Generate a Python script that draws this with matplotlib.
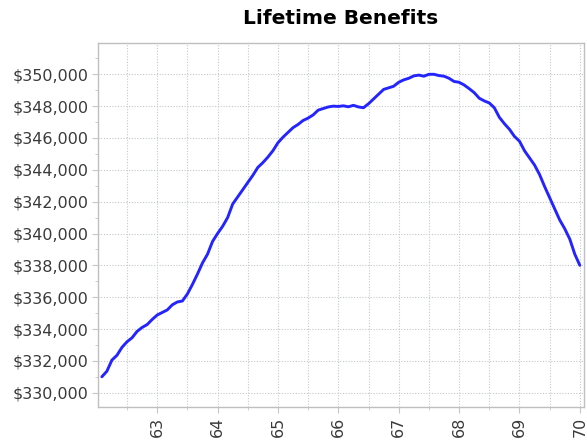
"""Lifetime benefits by claiming age."""

import numpy as np
import matplotlib
matplotlib.use("Agg")
import matplotlib.pyplot as plt
from matplotlib.ticker import MultipleLocator, FuncFormatter

# claiming age, monthly from 62 + 1/12 up to 70
ages = 62 + np.arange(1, 97) / 12.0

benefits = [
    331000, 331350, 332050, 332350, 332850, 333200, 333450, 333850,
    334100, 334280, 334600, 334880, 335040, 335200, 335520, 335700,
    335760, 336200, 336800, 337450, 338150, 338700, 339500, 340000,
    340450, 341000, 341850, 342300, 342750, 343200, 343650, 344150,
    344450, 344800, 345200, 345700, 346050, 346350, 346650, 346850,
    347100, 347250, 347450, 347750, 347850, 347950, 348000, 347980,
    348020, 347960, 348050, 347950, 347900, 348150, 348450, 348750,
    349050, 349150, 349250, 349500, 349650, 349750, 349900, 349950,
    349880, 350000, 350000, 349920, 349880, 349750, 349550, 349500,
    349330, 349100, 348850, 348500, 348330, 348200, 347900, 347300,
    346900, 346550, 346100, 345800, 345200, 344750, 344300, 343700,
    342950, 342250, 341550, 340850, 340300, 339650, 338700, 338000,
]

x_ticks = [63, 64, 65, 66, 67, 68, 69, 70]

GRID = "#c4c8cc"
TEXT = "#3a3a3a"

fig = plt.figure(figsize=(5.87, 4.41), dpi=100)
ax = fig.add_axes([0.167, 0.077, 0.828, 0.826])

ax.plot(ages, benefits, color="#2424ff", linewidth=2.1, solid_capstyle="round",
        solid_joinstyle="round")

ax.set_xlim(62.02, 70.07)
ax.set_ylim(329100, 351980)

ax.set_xticks(x_ticks)
ax.xaxis.set_minor_locator(MultipleLocator(0.5))
ax.yaxis.set_major_locator(MultipleLocator(2000))
ax.yaxis.set_minor_locator(MultipleLocator(1000))
ax.yaxis.set_major_formatter(FuncFormatter(lambda v, _: f"${v:,.0f}"))

ax.grid(True, which="major", color=GRID, linestyle=(0, (1, 1.5)), linewidth=0.8)
ax.grid(True, which="minor", axis="x", color=GRID, linestyle=(0, (1, 1.5)), linewidth=0.8)

ax.tick_params(axis="both", which="major", length=4, color=GRID, labelcolor=TEXT,
               labelsize=11.5)
ax.tick_params(axis="both", which="minor", length=2.5, color=GRID)
ax.tick_params(axis="x", which="major", labelrotation=90, pad=3)
ax.tick_params(axis="y", which="major", pad=3)

for spine in ax.spines.values():
    spine.set_color("#bfbfbf")
    spine.set_linewidth(1.0)

fig.text(0.58, 0.957, "Lifetime Benefits", ha="center", va="center",
         fontsize=14.5, fontweight="bold", color="black")

fig.savefig("out.png", dpi=100, facecolor="white")
